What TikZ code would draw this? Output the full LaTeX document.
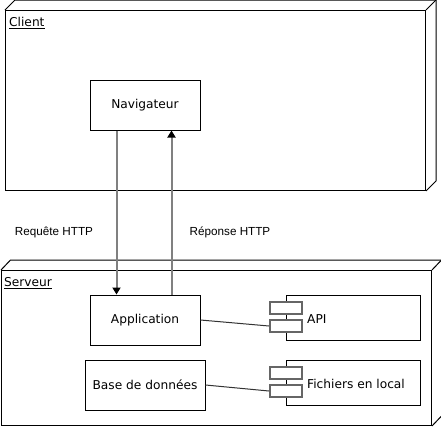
\documentclass[tikz,border=0pt]{standalone}
\usepackage{fontspec}
\setmainfont{DejaVu Sans}
\newfontfamily\lblfont{Liberation Sans}
\usetikzlibrary{arrows.meta}
\begin{document}
\begin{tikzpicture}[x=1pt,y=-1pt,
  frontface/.style={draw, line width=1pt, fill=white, inner sep=0pt, anchor=north west},
  box/.style={draw, line width=1pt, fill=white, inner sep=0pt, font=\fontsize{12.2}{14}\selectfont},
  comp/.style={draw, line width=1pt, fill=white, inner sep=0pt, minimum width=134pt, minimum height=45pt},
  tab/.style={draw=black!60, line width=2pt, fill=white, inner sep=0pt, minimum width=32pt, minimum height=12pt},
  txt/.style={inner sep=0pt, font=\fontsize{12.2}{14}\selectfont},
  lbl/.style={inner sep=0pt, font=\lblfont\fontsize{11.7}{14}\selectfont},
  msg/.style={draw=black!50, line width=2pt, -{Triangle[black, length=7pt, width=8pt]}},
  link/.style={draw=black!80, line width=1pt},
  backface/.style={draw, line width=1pt, line join=miter}
]
\useasboundingbox (0,0) rectangle (441,426);

% Client node (3D)
\node[frontface, minimum width=420pt, minimum height=180pt] (client) at (5,10) {};
\draw[backface] (client.north west) -- ++(10,-10) -| ([shift={(10,-10)}]client.south east) -- (client.south east);
\draw[backface] (client.north east) -- ++(10,-10);
\node[txt, anchor=west] (clientlbl) at ([shift={(4,13)}]client.north west) {\underline{Client}};

% Server node (3D)
\node[frontface, minimum width=430pt, minimum height=155pt] (server) at (1,270) {};
\draw[backface] (server.north west) -- ++(9.5,-10) -| ([shift={(9.5,-10)}]server.south east) -- (server.south east);
\draw[backface] (server.north east) -- ++(9.5,-10);
\node[txt, anchor=west] (serverlbl) at ([shift={(3,13)}]server.north west) {\underline{Serveur}};

% Boxes
\node[box, minimum width=110pt, minimum height=50pt] (nav) at (145,105) {Navigateur};
\node[box, minimum width=110pt, minimum height=50pt] (app) at (145,320) {Application};
\node[box, minimum width=120pt, minimum height=50pt] (bdd) at (145,385) {Base de données};

% Components
\node[comp] (api) at (353,317.5) {};
\node[tab] (apitab1) at (286,308) {};
\node[tab] (apitab2) at (286,326) {};
\node[txt, anchor=west] (apitxt) at (307,319.5) {API};

\node[comp] (fic) at (353,382.5) {};
\node[tab] (fictab1) at (286,373) {};
\node[tab] (fictab2) at (286,391) {};
\node[txt, anchor=west] (fictxt) at (307,383.5) {Fichiers en local};

% Messages
\draw[msg] ([xshift=27pt]nav.south west) -- ([xshift=27pt]app.north west);
\draw[msg] ([xshift=82pt]app.north west) -- ([xshift=82pt]nav.south west);
\node[lbl] (req) at (54,232) {Requête HTTP};
\node[lbl] (rep) at (230,232) {Réponse HTTP};

% Links
\draw[link] (app.east) -- (apitab2.west);
\draw[link] (bdd.east) -- (fictab2.west);
\end{tikzpicture}
\end{document}
